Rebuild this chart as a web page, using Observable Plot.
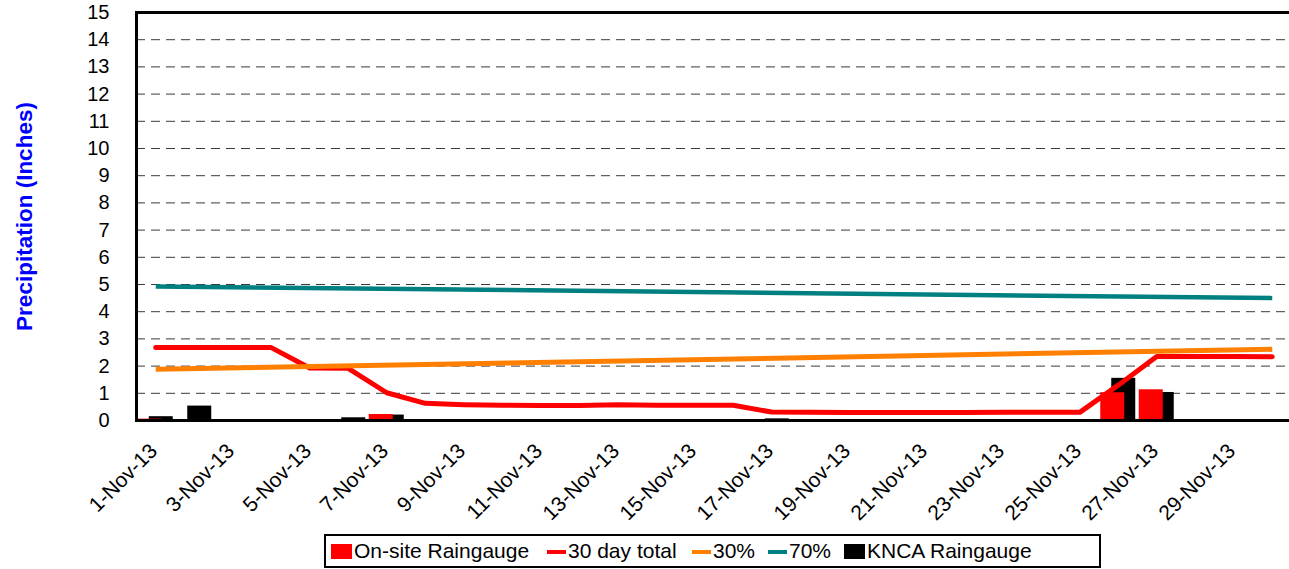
<!DOCTYPE html>
<html>
<head>
<meta charset="utf-8">
<script src="https://cdn.jsdelivr.net/npm/d3@7"></script>
<script src="https://cdn.jsdelivr.net/npm/@observablehq/plot@0.6"></script>
<style>
  html, body { margin: 0; padding: 0; background: #fff; overflow: hidden; }
  body { font-family: "Liberation Sans", Arial, sans-serif; }
  #chart svg { max-width: none !important; }
  #legend {
    position: absolute; left: 324px; top: 534px; width: 773px; height: 30px;
    border: 2px solid #000; background: #fff;
    font-size: 21px; color: #000; white-space: nowrap;
  }
  #legend .item { position: absolute; top: 0; height: 30px; display: flex; align-items: center; }
  #legend .sw { display: inline-block; margin-right: 2px; }
</style>
</head>
<body>
<div id="chart"></div>
<div id="legend"></div>
<script>
const days = ["1-Nov-13","2-Nov-13","3-Nov-13","4-Nov-13","5-Nov-13","6-Nov-13","7-Nov-13","8-Nov-13","9-Nov-13","10-Nov-13",
  "11-Nov-13","12-Nov-13","13-Nov-13","14-Nov-13","15-Nov-13","16-Nov-13","17-Nov-13","18-Nov-13","19-Nov-13","20-Nov-13",
  "21-Nov-13","22-Nov-13","23-Nov-13","24-Nov-13","25-Nov-13","26-Nov-13","27-Nov-13","28-Nov-13","29-Nov-13","30-Nov-13"];
const tickDays = ["1-Nov-13","3-Nov-13","5-Nov-13","7-Nov-13","9-Nov-13","11-Nov-13","13-Nov-13","15-Nov-13",
  "17-Nov-13","19-Nov-13","21-Nov-13","23-Nov-13","25-Nov-13","27-Nov-13","29-Nov-13"];
const onsite = [0.05,0,0,0,0,0,0.22,0,0.02,0, 0,0,0.03,0,0.02,0.01,0.03,0.03,0,0, 0,0,0.02,0,0,1.02,1.13,0,0,0];
const knca   = [0.14,0.53,0,0,0,0.1,0.2,0,0,0, 0,0.02,0.02,0,0.02,0.02,0.06,0.02,0,0, 0,0,0,0,0,1.55,1.03,0,0,0];
const total30 = [2.68,2.68,2.68,2.68,1.93,1.92,1.02,0.63,0.58,0.56, 0.55,0.55,0.58,0.56,0.56,0.56,0.31,0.3,0.29,0.29, 0.29,0.29,0.3,0.3,0.3,1.3,2.35,2.35,2.35,2.34];
const pctDays = ["1-Nov-13","30-Nov-13"];
const pct30 = [1.88, 2.62];
const pct70 = [4.93, 4.5];
const yTicks = [0,1,2,3,4,5,6,7,8,9,10,11,12,13,14,15];
const gridVals = [1,2,3,4,5,6,7,8,9,10,11,12,13,14];
const yTitle = "Precipitation (Inches)";

const series = [
  {label: "On-site Raingauge", color: "#ff0000", kind: "box"},
  {label: "30 day total", color: "#ff0000", kind: "line"},
  {label: "30%", color: "#ff8000", kind: "line"},
  {label: "70%", color: "#008080", kind: "line"},
  {label: "KNCA Raingauge", color: "#000000", kind: "box"}
];

const idx = d3.range(days.length);
const pidx = d3.range(pctDays.length);
const font = "Liberation Sans, Arial, sans-serif";

const chart = Plot.plot({
  width: 1291,
  height: 530,
  marginLeft: 136,
  marginRight: 0,
  marginTop: 12,
  marginBottom: 110,
  style: {fontFamily: font, fontSize: "20px", color: "#000", background: "#fff"},
  x: {type: "band", domain: days, padding: 0, round: false, range: [136, 1291]},
  y: {domain: [0, 15], range: [420, 12]},
  marks: [
    Plot.ruleY(gridVals, {stroke: "#3a3a3a", strokeWidth: 1, strokeDasharray: "9,6"}),
    Plot.barY(idx, {x: i => days[i], y: i => knca[i], fill: "#000", insetLeft: 7.25, insetRight: 7.25, dx: 5.5}),
    Plot.barY(idx, {x: i => days[i], y: i => onsite[i], fill: "#ff0000", insetLeft: 7.25, insetRight: 7.25, dx: -5.5}),
    Plot.line(idx, {x: i => days[i], y: i => total30[i], stroke: "#ff0000", strokeWidth: 5, strokeLinecap: "round", strokeLinejoin: "round"}),
    Plot.line(pidx, {x: i => pctDays[i], y: i => pct30[i], stroke: "#ff8000", strokeWidth: 5, strokeLinecap: "butt"}),
    Plot.line(pidx, {x: i => pctDays[i], y: i => pct70[i], stroke: "#008080", strokeWidth: 4.5, strokeLinecap: "butt"}),
    Plot.frame({stroke: "#000", strokeWidth: 3}),
    Plot.axisY({ticks: yTicks, tickSize: 0, tickPadding: 27, fontSize: 20, label: null}),
    Plot.axisX({ticks: tickDays, tickSize: 0, tickPadding: 10, tickRotate: -45, fontSize: 21, dx: -2, dy: 17, label: null}),
    Plot.text([yTitle], {frameAnchor: "left", textAnchor: "middle", dx: -112, rotate: -90, fill: "#0000ff", fontWeight: "bold", fontSize: 22.5})
  ]
});
document.getElementById("chart").appendChild(chart);

const lg = document.getElementById("legend");
const lefts = [5, 221, 366, 442, 518];
series.forEach((s, k) => {
  const it = document.createElement("div");
  it.className = "item";
  it.style.left = lefts[k] + "px";
  const sw = document.createElement("span");
  sw.className = "sw";
  if (s.kind === "box") { sw.style.width = "21px"; sw.style.height = "15px"; }
  else { sw.style.width = "19px"; sw.style.height = "4px"; sw.style.marginTop = "1px"; }
  sw.style.background = s.color;
  it.appendChild(sw);
  const t = document.createElement("span");
  t.textContent = s.label;
  it.appendChild(t);
  lg.appendChild(it);
});
</script>
</body>
</html>
